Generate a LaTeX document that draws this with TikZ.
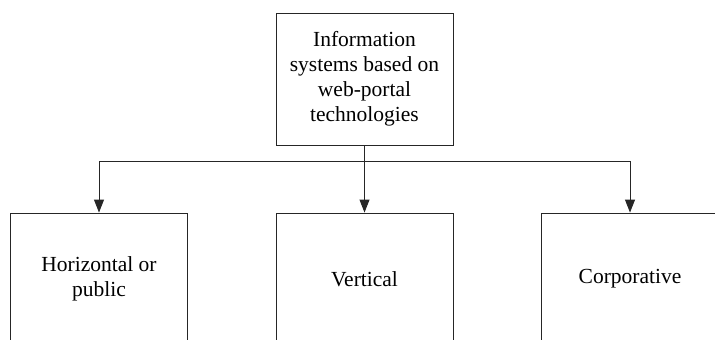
\documentclass[tikz,border=0pt]{standalone}
\usepackage{fontspec}
\setmainfont{Liberation Serif}
\usetikzlibrary{arrows.meta}
\begin{document}
\begin{tikzpicture}[x=1pt,y=-1pt,
  box/.style={draw=black!85, line width=0.9pt, minimum width=177pt, minimum height=132pt,
    inner sep=0pt, align=center, font=\fontsize{21.5}{25}\selectfont},
  link/.style={draw=black!85, line width=0.9pt},
  arr/.style={link, -{Triangle[length=13pt,width=10pt]}}]
  \clip (0,0) rectangle (715,340);
  \useasboundingbox (0,0) rectangle (715,340);
  % root node
  \node[box] (root) at (364.5,79) {Information\\systems based on\\web-portal\\technologies};
  % portal categories
  \node[box] (horiz) at (99,279) {Horizontal or\\public};
  \node[box] (vert) at (364.5,279) {Vertical};
  \node[box] (corp) at (630,279) {Corporative};
  % branching connector
  \coordinate (bus) at (364.5,161);
  \draw[link] (root.south) -- (bus);
  \draw[arr] (bus) -| (horiz.north);
  \draw[arr] (bus) -- (vert.north);
  \draw[arr] (bus) -| (corp.north);
\end{tikzpicture}
\end{document}
